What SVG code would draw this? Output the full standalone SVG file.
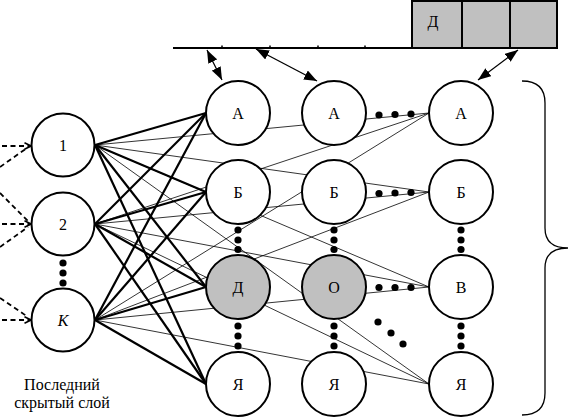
<svg xmlns="http://www.w3.org/2000/svg" width="570" height="417" viewBox="0 0 570 417">
<style>
.node circle{fill:#fff;stroke:#000;stroke-width:2}
.node.g circle{fill:#c0c0c0}
text{font-family:"Liberation Serif","DejaVu Serif",serif;font-size:16px;fill:#000;text-anchor:middle}
.thick line{stroke:#000;stroke-width:2.2}
.thin line{stroke:#000;stroke-width:0.8}
.dash line{stroke:#000;stroke-width:1.8;stroke-dasharray:5 3.5}
.arr line{stroke:#000;stroke-width:1.3;marker-start:url(#ah);marker-end:url(#ah)}
.dots circle{fill:#000}
</style>
<defs>
<marker id="ah" viewBox="0 0 13 10" refX="13" refY="5" markerWidth="13" markerHeight="10" markerUnits="userSpaceOnUse" orient="auto-start-reverse"><path d="M0,0 L13,5 L0,10 z" fill="#000"/></marker>
<marker id="ch" viewBox="0 0 8 8" refX="7.5" refY="4" markerWidth="8" markerHeight="8" markerUnits="userSpaceOnUse" orient="auto"><path d="M1,0.8 L7.5,4 L1,7.2" fill="none" stroke="#000" stroke-width="1.6"/></marker>
</defs>

<g id="tape">
<line x1="173" y1="48" x2="557" y2="48" stroke="#000" stroke-width="2"/>
<g stroke="#000" stroke-width="1.5">
<line x1="222" y1="45.5" x2="222" y2="48"/>
<line x1="270" y1="45.5" x2="270" y2="48"/>
<line x1="318" y1="45.5" x2="318" y2="48"/>
<line x1="365" y1="45.5" x2="365" y2="48"/>
</g>
<rect x="412" y="1" width="145" height="47" fill="#c0c0c0" stroke="#000" stroke-width="2"/>
<line x1="462" y1="1" x2="462" y2="48" stroke="#000" stroke-width="2"/>
<line x1="510" y1="1" x2="510" y2="48" stroke="#000" stroke-width="2"/>
<text x="433" y="27" font-family="Liberation Serif, DejaVu Serif, serif">Д</text>
</g>

<g id="connectors">
<g class="thin">
<line x1="95" y1="145" x2="429" y2="113"/>
<line x1="95" y1="145" x2="429" y2="192"/>
<line x1="95" y1="145" x2="429" y2="287"/>
<line x1="95" y1="145" x2="429" y2="384"/>
<line x1="95" y1="224" x2="429" y2="113"/>
<line x1="95" y1="224" x2="429" y2="192"/>
<line x1="95" y1="224" x2="429" y2="287"/>
<line x1="95" y1="224" x2="429" y2="384"/>
<line x1="95" y1="320" x2="429" y2="113"/>
<line x1="95" y1="320" x2="429" y2="192"/>
<line x1="95" y1="320" x2="429" y2="287"/>
<line x1="95" y1="320" x2="429" y2="384"/>
</g>
<g class="thick">
<line x1="95" y1="145" x2="206" y2="113"/>
<line x1="95" y1="145" x2="206" y2="192"/>
<line x1="95" y1="145" x2="206" y2="287"/>
<line x1="95" y1="145" x2="206" y2="384"/>
<line x1="95" y1="224" x2="206" y2="113"/>
<line x1="95" y1="224" x2="206" y2="192"/>
<line x1="95" y1="224" x2="206" y2="287"/>
<line x1="95" y1="224" x2="206" y2="384"/>
<line x1="95" y1="320" x2="206" y2="113"/>
<line x1="95" y1="320" x2="206" y2="192"/>
<line x1="95" y1="320" x2="206" y2="287"/>
<line x1="95" y1="320" x2="206" y2="384"/>
</g>
<g class="dash">
<line x1="2" y1="146" x2="31" y2="146" marker-end="url(#ch)"/>
<line x1="0" y1="167" x2="27" y2="148"/>
<line x1="0" y1="193" x2="28" y2="221"/>
<line x1="2" y1="224" x2="31" y2="224" marker-end="url(#ch)"/>
<line x1="0" y1="247" x2="28" y2="227"/>
<line x1="0" y1="298" x2="28" y2="317"/>
<line x1="2" y1="320" x2="31" y2="320" marker-end="url(#ch)"/>
</g>
<g class="arr">
<line x1="207" y1="50" x2="222" y2="80"/>
<line x1="256" y1="49" x2="317" y2="81"/>
<line x1="518" y1="50" x2="478" y2="80"/>
</g>
</g>

<g font-family="Liberation Serif, DejaVu Serif, serif">
<g id="h1" class="node"><circle cx="63" cy="145" r="31.5"/><text x="63" y="150.5">1</text></g>
<g id="h2" class="node"><circle cx="63" cy="224" r="31.5"/><text x="63" y="229.5">2</text></g>
<g id="hK" class="node"><circle cx="63" cy="320" r="31.5"/><text x="63" y="325.5" font-style="italic">K</text></g>

<g id="c2A" class="node"><circle cx="238" cy="113" r="32"/><text x="238" y="118.5">А</text></g>
<g id="c2B" class="node"><circle cx="238" cy="192" r="32"/><text x="238" y="197.5">Б</text></g>
<g id="c2D" class="node g"><circle cx="238" cy="287" r="32"/><text x="238" y="292.5">Д</text></g>
<g id="c2Y" class="node"><circle cx="238" cy="384" r="32"/><text x="238" y="389.5">Я</text></g>

<g id="c3A" class="node"><circle cx="334" cy="113" r="32"/><text x="334" y="118.5">А</text></g>
<g id="c3B" class="node"><circle cx="334" cy="192" r="32"/><text x="334" y="197.5">Б</text></g>
<g id="c3O" class="node g"><circle cx="334" cy="287" r="32"/><text x="334" y="292.5">О</text></g>
<g id="c3Y" class="node"><circle cx="334" cy="384" r="32"/><text x="334" y="389.5">Я</text></g>

<g id="c4A" class="node"><circle cx="461" cy="113" r="32"/><text x="461" y="118.5">А</text></g>
<g id="c4B" class="node"><circle cx="461" cy="192" r="32"/><text x="461" y="197.5">Б</text></g>
<g id="c4V" class="node"><circle cx="461" cy="287" r="32"/><text x="461" y="292.5">В</text></g>
<g id="c4Y" class="node"><circle cx="461" cy="384" r="32"/><text x="461" y="389.5">Я</text></g>
</g>

<g id="ellipses" class="dots">
<circle cx="63" cy="263" r="3.6"/><circle cx="63" cy="273" r="3.6"/><circle cx="63" cy="283" r="3.6"/>
<circle cx="238" cy="230" r="3.6"/><circle cx="238" cy="240" r="3.6"/><circle cx="238" cy="249.5" r="3.6"/>
<circle cx="334" cy="230" r="3.6"/><circle cx="334" cy="240" r="3.6"/><circle cx="334" cy="249.5" r="3.6"/>
<circle cx="461" cy="230" r="3.6"/><circle cx="461" cy="240" r="3.6"/><circle cx="461" cy="249.5" r="3.6"/>
<circle cx="238" cy="326" r="3.6"/><circle cx="238" cy="336" r="3.6"/><circle cx="238" cy="346" r="3.6"/>
<circle cx="334" cy="326" r="3.6"/><circle cx="334" cy="336" r="3.6"/><circle cx="334" cy="346" r="3.6"/>
<circle cx="461" cy="326" r="3.6"/><circle cx="461" cy="336" r="3.6"/><circle cx="461" cy="346" r="3.6"/>
<circle cx="379" cy="115" r="3.6"/><circle cx="395" cy="114.5" r="3.6"/><circle cx="411" cy="114" r="3.6"/>
<circle cx="379" cy="193.5" r="3.6"/><circle cx="395" cy="193" r="3.6"/><circle cx="411" cy="192.5" r="3.6"/>
<circle cx="379" cy="287.5" r="3.6"/><circle cx="395" cy="287.5" r="3.6"/><circle cx="411" cy="287.5" r="3.6"/>
<circle cx="378" cy="322" r="3.6"/><circle cx="391" cy="333" r="3.6"/><circle cx="403" cy="344" r="3.6"/>
</g>

<path id="brace" d="M522,81 Q545,81 545,103 L545,228 Q545,248 568,248 Q545,248 545,268 L545,393 Q545,415 522,415" fill="none" stroke="#000" stroke-width="1.3"/>

<g id="caption" font-family="Liberation Serif, DejaVu Serif, serif">
<text x="62" y="390">Последний</text>
<text x="62" y="408">скрытый слой</text>
</g>
</svg>
